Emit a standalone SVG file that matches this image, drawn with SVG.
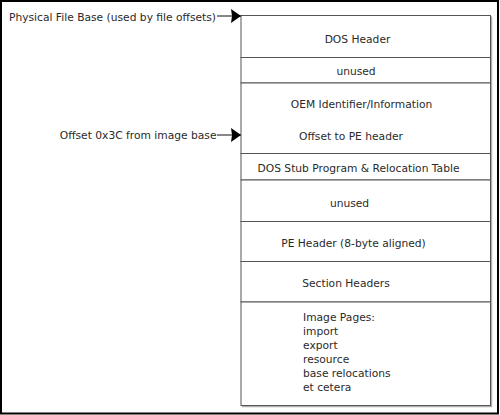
<svg xmlns="http://www.w3.org/2000/svg" width="500" height="415" viewBox="0 0 500 415">
<style>
text{font-family:"DejaVu Sans","Liberation Sans",sans-serif;font-size:10.7px;fill:#2a2a2a}
.c{text-anchor:middle}
.cell{fill:#fff;stroke:#555;stroke-width:1}
.sh{fill:none;stroke:#b0b0b0;stroke-width:1.5}
.conn{stroke:#111;stroke-width:1;fill:none}
</style>
<defs>
<marker id="arr" viewBox="0 0 10 14" refX="10" refY="7" markerWidth="10" markerHeight="14" markerUnits="userSpaceOnUse" orient="auto">
<path d="M0,0 L10,7 L0,14 L1,7 Z" fill="#000"/>
</marker>
</defs>
<rect x="0" y="0" width="500" height="415" fill="#fff"/>
<rect x="1" y="1" width="497" height="412.5" fill="none" stroke="#000" stroke-width="2"/>
<path class="sh" d="M491.5,16.5 V406.5 H242"/>
<g id="n-dos-header"><rect class="cell" x="241" y="15.5" width="249.5" height="42"/><text class="c" x="357.5" y="42.5">DOS Header</text></g>
<g id="n-unused1"><rect class="cell" x="241" y="57.5" width="249.5" height="25.5"/><text class="c" x="356" y="75">unused</text></g>
<g id="n-oem"><rect class="cell" x="241" y="83" width="249.5" height="70.5"/><text class="c" x="361.5" y="107.5">OEM Identifier/Information</text><text class="c" x="351" y="140">Offset to PE header</text></g>
<g id="n-dos-stub"><rect class="cell" x="241" y="153.5" width="249.5" height="26.5"/><text class="c" x="358.5" y="171.5">DOS Stub Program &amp; Relocation Table</text></g>
<g id="n-unused2"><rect class="cell" x="241" y="180" width="249.5" height="41.5"/><text class="c" x="349.5" y="206.5">unused</text></g>
<g id="n-pe-header"><rect class="cell" x="241" y="221.5" width="249.5" height="40"/><text class="c" x="353.5" y="246.5">PE Header (8-byte aligned)</text></g>
<g id="n-section-headers"><rect class="cell" x="241" y="261.5" width="249.5" height="40.5"/><text class="c" x="346" y="286.5">Section Headers</text></g>
<g id="n-image-pages"><rect class="cell" x="241" y="302" width="249.5" height="103.5"/>
<text x="303" y="320.7">Image Pages:</text>
<text x="303" y="334.8">import</text>
<text x="303" y="348.9">export</text>
<text x="303" y="363">resource</text>
<text x="303" y="377.1">base relocations</text>
<text x="303" y="391.2">et cetera</text>
</g>
<g id="labels">
<text x="9" y="20.5">Physical File Base (used by file offsets)</text>
<text x="216.5" y="139" style="text-anchor:end">Offset 0x3C from image base</text>
</g>
<g id="connectors">
<path class="conn" d="M217,16 H241" marker-end="url(#arr)"/>
<path class="conn" d="M217,135 H241" marker-end="url(#arr)"/>
</g>
</svg>
